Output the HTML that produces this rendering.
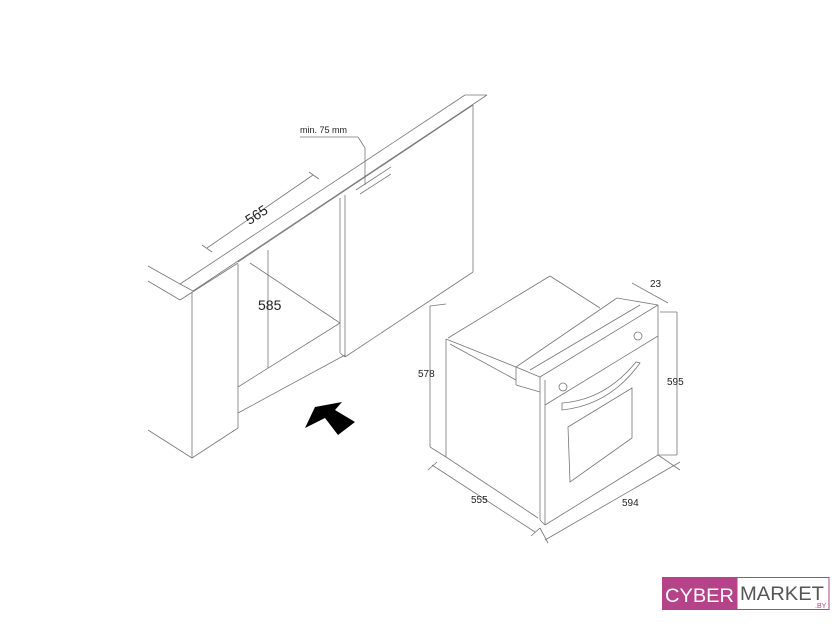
<!DOCTYPE html>
<html><head><style>
body{margin:0;background:#fff;width:840px;height:640px;overflow:hidden;font-family:"Liberation Sans",sans-serif}
svg{position:absolute;left:0;top:0}
</style></head><body>
<svg width="840" height="640" viewBox="0 0 840 640">
<g stroke="#777" stroke-width="0.8" fill="none">
<line x1="148" y1="266" x2="180" y2="284"/><line x1="148" y1="281" x2="180" y2="300"/>
<line x1="180" y1="284" x2="465" y2="95"/><line x1="465" y1="95" x2="487" y2="95"/>
<line x1="487" y1="95" x2="193" y2="291"/><line x1="180" y1="284" x2="193" y2="291"/>
<line x1="180" y1="300" x2="238" y2="263"/>
<line x1="473" y1="105" x2="238" y2="262"/>
<line x1="473" y1="105" x2="473" y2="272"/>
<line x1="345" y1="357" x2="473" y2="272"/>
<line x1="340" y1="198" x2="340" y2="353"/><line x1="345" y1="195" x2="345" y2="357"/>
<line x1="340" y1="353" x2="345" y2="357"/>
<line x1="192" y1="292" x2="192" y2="458"/><line x1="238" y1="264" x2="238" y2="428"/>
<line x1="192" y1="458" x2="238" y2="428"/><line x1="148" y1="430" x2="192" y2="458"/>
<line x1="250" y1="263" x2="340" y2="323"/>
<line x1="238" y1="387" x2="340" y2="323"/>
<line x1="238" y1="413" x2="345" y2="355"/>
<line x1="268" y1="250" x2="268" y2="368"/>
<line x1="207" y1="248" x2="313" y2="175"/>
<line x1="202" y1="245" x2="212" y2="252"/><line x1="309" y1="172" x2="319" y2="179"/>
<line x1="300" y1="137" x2="358" y2="137"/><line x1="358" y1="137" x2="365" y2="148"/>
<line x1="365" y1="148" x2="365" y2="185"/>
<line x1="356" y1="190" x2="391" y2="167"/><line x1="360" y1="194" x2="391" y2="174"/>
<line x1="446" y1="339" x2="446" y2="457"/><line x1="446" y1="457" x2="538" y2="518"/>
<line x1="446" y1="339" x2="516" y2="367"/><line x1="450" y1="344" x2="516" y2="380"/>
<line x1="448" y1="338" x2="550" y2="276"/><line x1="550" y1="276" x2="600" y2="308"/>
<line x1="516" y1="367" x2="617" y2="298"/><line x1="617" y1="298" x2="658" y2="305"/>
<line x1="516" y1="367" x2="516" y2="385"/><line x1="516" y1="385" x2="540" y2="392"/>
<line x1="516" y1="367" x2="540" y2="377"/><line x1="540" y1="377" x2="658" y2="305"/>
<line x1="540" y1="377" x2="540" y2="520"/><line x1="545" y1="380" x2="545" y2="525"/>
<line x1="540" y1="520" x2="545" y2="525"/>
<line x1="545" y1="405" x2="658" y2="336"/>
<line x1="658" y1="305" x2="658" y2="455"/>
<line x1="545" y1="525" x2="658" y2="455"/>
<line x1="530" y1="370" x2="640" y2="305"/>
<polygon points="568,427 632,388 632,438 570,482"/>
<path d="M562,410 Q610,405 640,363 L636,362 Q605,400 562,403 Z"/>
<circle cx="563" cy="387" r="4"/><circle cx="638" cy="336" r="4"/>
<line x1="430" y1="306" x2="430" y2="447"/><line x1="430" y1="306" x2="446" y2="304"/>
<line x1="430" y1="447" x2="446" y2="457"/>
<line x1="677" y1="312" x2="677" y2="455"/><line x1="660" y1="312" x2="677" y2="312"/>
<line x1="658" y1="455" x2="677" y2="455"/><line x1="658" y1="455" x2="680" y2="470"/>
<line x1="432" y1="465" x2="535" y2="532"/><line x1="428" y1="470" x2="437" y2="462"/><line x1="531" y1="536" x2="540" y2="528"/>
<line x1="545" y1="540" x2="680" y2="462"/><line x1="540" y1="528" x2="548" y2="543"/>
<line x1="632" y1="283" x2="668" y2="303"/>
</g>
<polygon points="305,428 315,407 342,402 335,410 355,422 338,435 325,418" fill="#000"/>
<g font-family="Liberation Sans, sans-serif" fill="#222">
<text x="258" y="310" font-size="14">585</text>
<text x="243" y="220" font-size="14" transform="rotate(-33 255 212)">565</text>
<text x="300" y="133" font-size="9">min. 75 mm</text>
<text x="418" y="377" font-size="10">578</text>
<text x="667" y="385" font-size="10">595</text>
<text x="471" y="503" font-size="10">555</text>
<text x="622" y="506" font-size="10">594</text>
<text x="650" y="287" font-size="10">23</text>
</g>
<rect x="662" y="577" width="75" height="33" fill="#b5438a"/>
<rect x="737" y="577.5" width="92" height="32" fill="#fff" stroke="#b5438a"/>
<text x="665" y="602" font-size="19" fill="#fff" font-family="Liberation Sans, sans-serif" textLength="69" lengthAdjust="spacingAndGlyphs">CYBER</text>
<text x="740" y="600" font-size="19" fill="#555" font-family="Liberation Sans, sans-serif" textLength="84" lengthAdjust="spacingAndGlyphs">MARKET</text>
<text x="815" y="608" font-size="7" fill="#b5438a" font-family="Liberation Sans, sans-serif">.BY</text>
</svg>
</body></html>
